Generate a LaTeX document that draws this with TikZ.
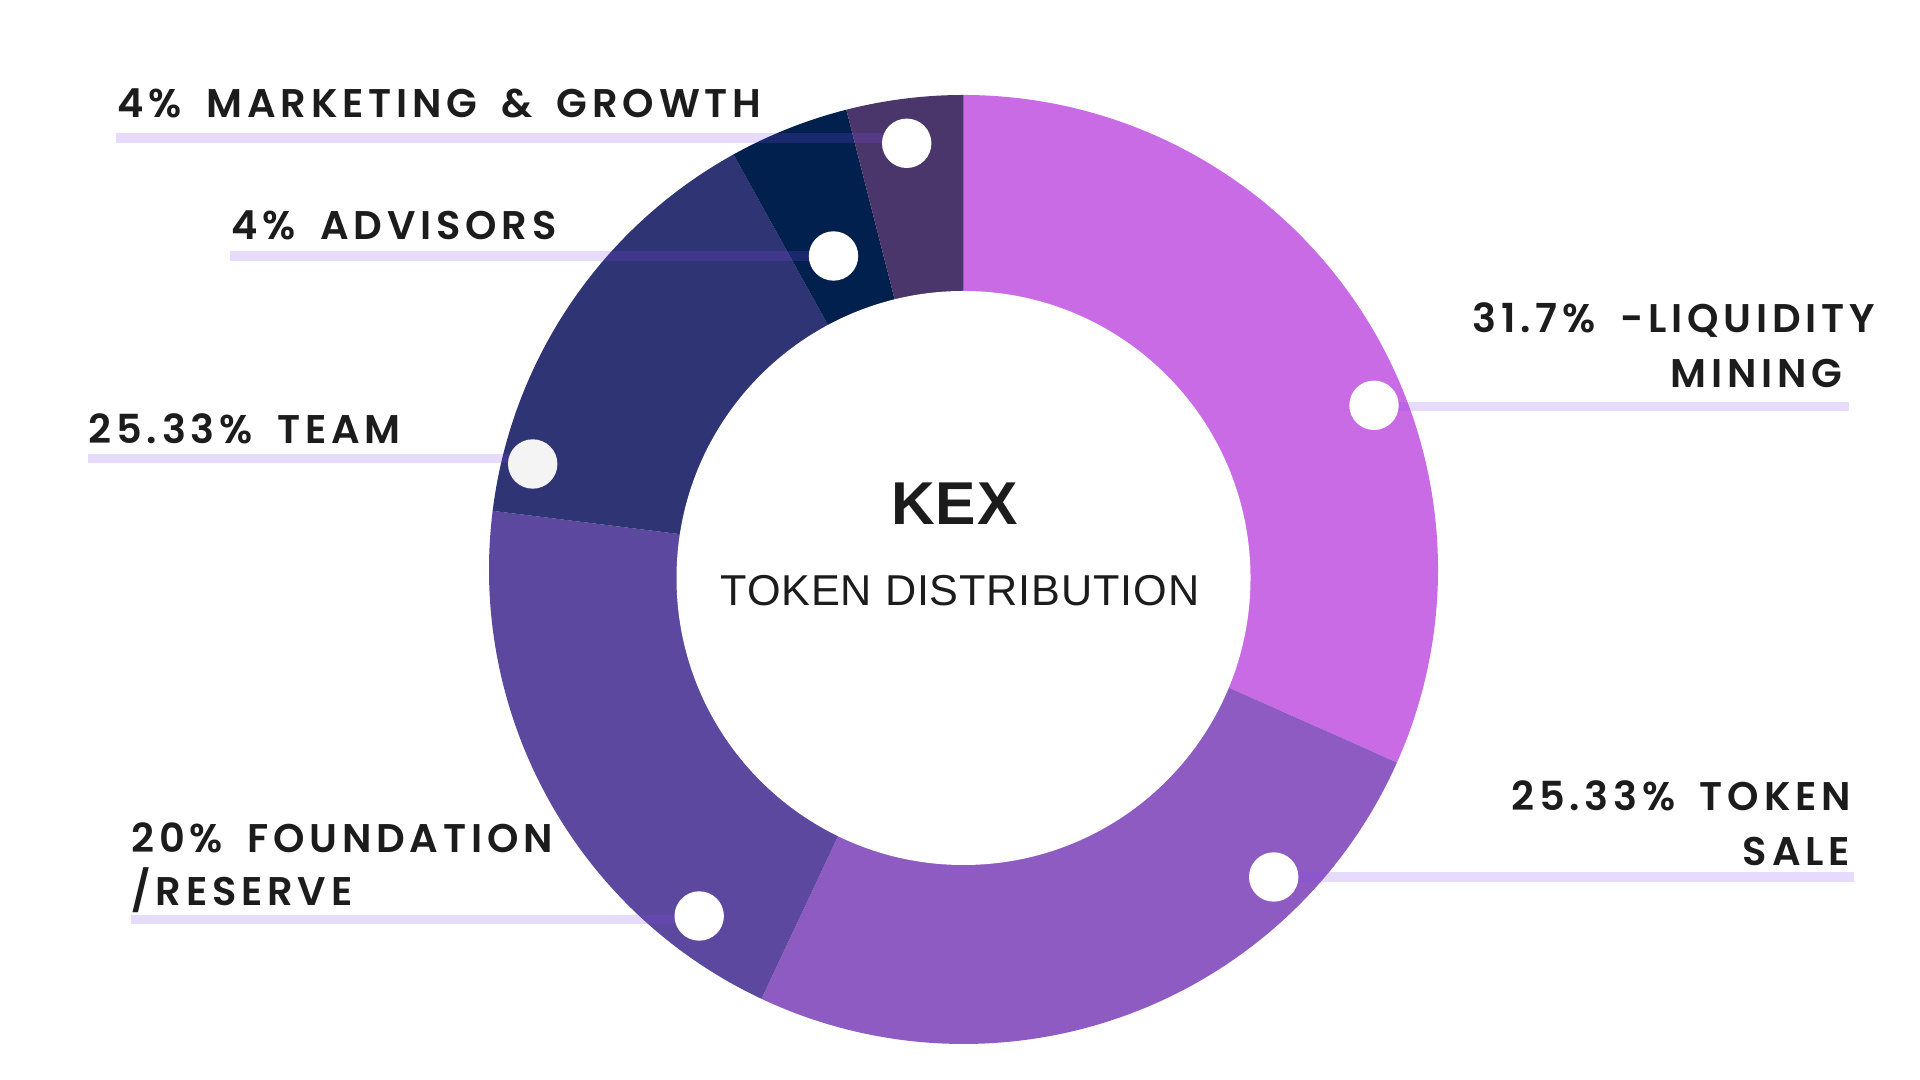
\documentclass[tikz,border=0pt]{standalone}
\usepackage{fontspec}
\newfontfamily\labfont{Poppins SemiBold}[LetterSpace=12,WordSpace=1.7]
\newfontfamily\cenfont{Liberation Sans}[LetterSpace=2]
\definecolor{cLiq}{HTML}{C86BE5}
\definecolor{cTok}{HTML}{8E5BC2}
\definecolor{cFnd}{HTML}{5C489E}
\definecolor{cTeam}{HTML}{2F3475}
\definecolor{cAdv}{HTML}{01204E}
\definecolor{cMkt}{HTML}{4B366B}
\definecolor{cLine}{RGB}{130,75,240}
\definecolor{cText}{HTML}{1C1C1C}
\definecolor{cDotG}{HTML}{F4F4F4}
\begin{document}
\begin{tikzpicture}[x=0.5pt,y=0.5pt,
  lab/.style={anchor=base west,inner sep=0pt,text=cText,font=\labfont\fontsize{20pt}{24pt}\selectfont},
  leader/.style={draw=cLine,draw opacity=0.2,line width=4.75pt},
  dot/.style={circle,fill=white,minimum size=24.7pt,inner sep=0pt},
]
\useasboundingbox (0,0) rectangle (1920,1080);
\fill[white] (0,0) rectangle (1920,1080);
\coordinate (O) at (963.5,510.5);
\coordinate (I) at (963.5,502);
\def\R{474.5}
% ring slices
\fill[cLiq]  (O) -- ++(-24.0:\R) arc[start angle=-24.0,end angle=90,radius=\R] -- cycle;
\fill[cTok]  (O) -- ++(-115.2:\R) arc[start angle=-115.2,end angle=-24.0,radius=\R] -- cycle;
\fill[cFnd]  (O) -- ++(-187.1:\R) arc[start angle=-187.1,end angle=-115.2,radius=\R] -- cycle;
\fill[cTeam] (O) -- ++(119.0:\R) arc[start angle=119.0,end angle=172.9,radius=\R] -- cycle;
\fill[cAdv]  (O) -- ++(104.3:\R) arc[start angle=104.3,end angle=119.0,radius=\R] -- cycle;
\fill[cMkt]  (O) -- ++(90:\R) arc[start angle=90,end angle=104.3,radius=\R] -- cycle;
\fill[white] (I) circle[radius=287];
% centre text
\node[anchor=base,inner sep=0pt,text=cText,font=\cenfont\bfseries\fontsize{30.25pt}{36pt}\selectfont] (kex) at (954.5,555) {KEX};
\node[anchor=base,inner sep=0pt,text=cText,font=\cenfont\fontsize{21.6pt}{26pt}\selectfont] (sub) at (960,474) {TOKEN DISTRIBUTION};
% leader start/end points
\coordinate (mkL) at (116.2,942);
\coordinate (adL) at (229.8,824.2);
\coordinate (tmL) at (88.2,621.3);
\coordinate (fnL) at (131,160.4);
\coordinate (tkR) at (1853.9,203.2);
\coordinate (lqR) at (1849.3,673.5);
% dots (positions)
\coordinate (mkD) at (906.7,936.7);
\coordinate (adD) at (833.5,824);
\coordinate (tmD) at (532.7,616);
\coordinate (fnD) at (699.2,164);
\coordinate (tkD) at (1273.7,203);
\coordinate (lqD) at (1374,674.7);
% leaders
\draw[leader] (mkL) -- (mkL -| mkD);
\draw[leader] (adL) -- (adL -| adD);
\draw[leader] (tmL) -- (tmL -| tmD);
\draw[leader] (fnL) -- (fnL -| fnD);
\draw[leader] (tkR) -- (tkR -| tkD);
\draw[leader] (lqR) -- (lqR -| lqD);
% dots
\node[dot] (mkDot) at (mkD) {};
\node[dot] (adDot) at (adD) {};
\node[dot,fill=cDotG] (tmDot) at (tmD) {};
\node[dot] (fnDot) at (fnD) {};
\node[dot] (tkDot) at (tkD) {};
\node[dot] (lqDot) at (lqD) {};
% labels
\node[lab] (mk) at (117.3,962.7) {4\% MARKETING \& GROWTH};
\node[lab] (ad) at (231,840) {4\% ADVISORS};
\node[lab] (lq1) at (1472.3,747.7) {31.7\% -LIQUIDITY};
\node[lab] (lq2) at (1670,692.3) {MINING};
\node[lab] (tm) at (88.2,636.7) {25.33\% TEAM};
\node[lab] (fn1) at (131,227.7) {20\% FOUNDATION};
\node[lab] (fn2) at (131,174) {/RESERVE};
\node[lab] (tk1) at (1511,269.4) {25.33\% TOKEN};
\node[lab] (tk2) at (1742.5,214.3) {SALE};
\end{tikzpicture}
\end{document}
